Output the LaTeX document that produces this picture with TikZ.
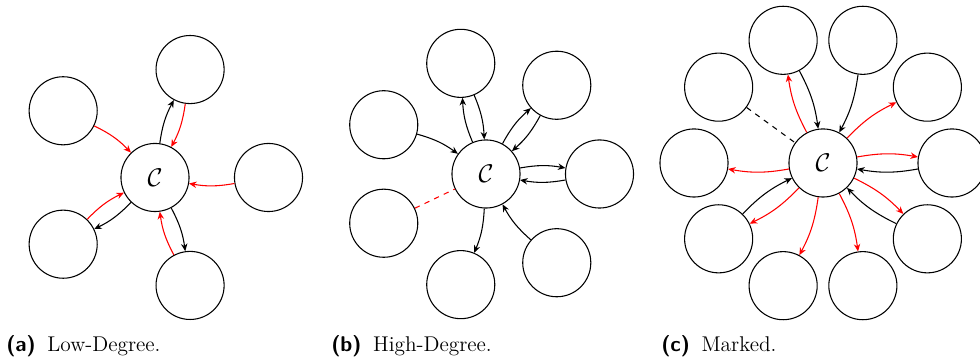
\documentclass[tikz,border=0pt]{standalone}
\usetikzlibrary{arrows.meta}
\begin{document}
\begin{tikzpicture}[x=0.5625pt,y=0.5625pt,
  vtx/.style={circle,draw,line width=0.6pt,minimum size=38.3pt,inner sep=0pt},
  hub/.style={vtx,font=\Large},
  edgearc/.style={line width=0.6pt,-{Stealth[length=4.2pt,width=3.6pt]},bend left=10},
  blk/.style={edgearc,black},
  rd/.style={edgearc,red},
  dashlink/.style={line width=0.6pt,dashed},
  captext/.style={anchor=base west,inner sep=0pt,font=\fontsize{12}{14}\selectfont}]
\useasboundingbox (0,0) rectangle (980,363);

% ---------- (a) low-degree hub: five neighbours ----------
\coordinate (ca) at (155,185.5);
\node[hub] (A) at (ca) {$\mathcal{C}$};
\foreach \i/\ang in {0/0,1/72,2/144,3/216,4/288}
  \path (ca) ++(\ang:113.5) node[vtx] (a\i) {};
\draw[rd]  (a0) to (A);
\draw[blk] (A) to (a1);
\draw[rd]  (a1) to (A);
\draw[rd]  (a2) to (A);
\draw[rd]  (a3) to (A);
\draw[blk] (A) to (a3);
\draw[blk] (A) to (a4);
\draw[rd]  (a4) to (A);

% ---------- (b) high-degree hub: seven neighbours ----------
\coordinate (cb) at (486,189);
\node[hub] (B) at (cb) {$\mathcal{C}$};
\foreach \i in {0,...,6}
  \path (cb) ++({\i*360/7}:113.5) node[vtx] (b\i) {};
\draw[blk] (B) to (b0);
\draw[blk] (b0) to (B);
\draw[blk] (B) to (b1);
\draw[blk] (b1) to (B);
\draw[blk] (B) to (b2);
\draw[blk] (b2) to (B);
\draw[blk] (b3) to (B);
\draw[dashlink,red] (b4) -- (B);
\draw[blk] (B) to (b5);
\draw[blk] (b6) to (B);

% ---------- (c) marked hub: ten neighbours ----------
\coordinate (cc) at (823,200);
\node[hub] (M) at (cc) {$\mathcal{C}$};
\foreach \i in {0,...,9}
  \path (cc) ++({\i*36}:129) node[vtx] (c\i) {};
\draw[rd]  (M) to (c0);
\draw[blk] (c0) to (M);
\draw[rd]  (M) to (c1);
\draw[blk] (c2) to (M);
\draw[rd]  (M) to (c3);
\draw[blk] (c3) to (M);
\draw[dashlink,black] (c4) -- (M);
\draw[rd]  (M) to (c5);
\draw[blk] (c6) to (M);
\draw[rd]  (M) to (c6);
\draw[rd]  (M) to (c7);
\draw[rd]  (M) to (c8);
\draw[rd]  (M) to (c9);
\draw[blk] (c9) to (M);

% ---------- captions ----------
\node[captext] (capa) at (6,11)   {\textsf{\bfseries (a)}\hspace{6.5pt}Low-Degree.};
\node[captext] (capb) at (331,11) {\textsf{\bfseries (b)}\hspace{6.5pt}High-Degree.};
\node[captext] (capc) at (661,11) {\textsf{\bfseries (c)}\hspace{6.5pt}Marked.};
\end{tikzpicture}
\end{document}
